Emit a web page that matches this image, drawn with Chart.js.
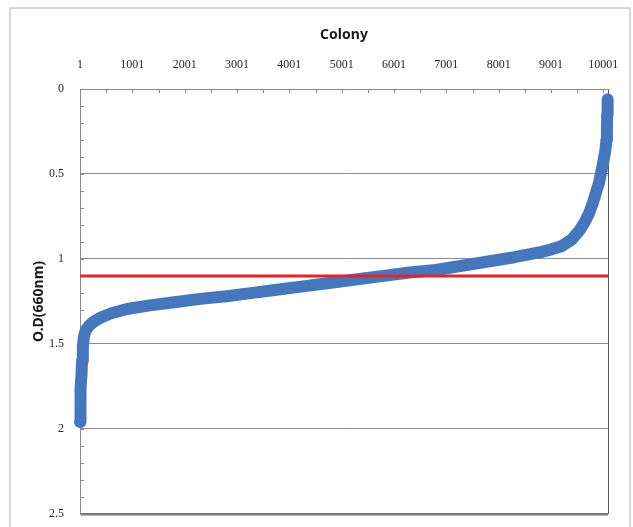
<!DOCTYPE html>
<html>
<head>
<meta charset="utf-8">
<script src="https://cdn.jsdelivr.net/npm/chart.js@4/dist/chart.umd.min.js"></script>
<style>
  html, body { margin: 0; padding: 0; background: #fff; }
  #wrap { position: relative; width: 633px; height: 527px; }
  #frame { position: absolute; left: 9px; top: 7px; width: 622px; height: 522px; border: 2px solid #d6d6d6; box-sizing: border-box; }
  canvas { position: absolute; left: 0; top: 0; }
</style>
</head>
<body>
<div id="wrap">
  <div id="frame"></div>
  <canvas id="odChart" width="633" height="527"></canvas>
</div>
<script>
// colony index (sorted by O.D) and measured O.D at 660nm
const colonies = [1, 4, 8, 12, 20, 30, 40, 55, 75, 110,
    170, 260, 400, 600, 900, 1300, 1800, 2300, 2800, 3300,
    3800, 4300, 4800, 5300, 5800, 6300, 6800, 7300, 7800, 8300,
    8800, 9000, 9200, 9400, 9550, 9650, 9730, 9800, 9860, 9920,
    9960, 10000, 10040, 10060, 10070, 10075, 10080, 10085];
const odValues = [1.96, 1.92, 1.88, 1.84, 1.76, 1.68, 1.60, 1.52, 1.46, 1.42,
    1.395, 1.37, 1.345, 1.32, 1.295, 1.275, 1.255, 1.235, 1.22, 1.20,
    1.18, 1.16, 1.14, 1.12, 1.10, 1.08, 1.065, 1.04, 1.015, 0.99,
    0.96, 0.945, 0.925, 0.885, 0.83, 0.78, 0.73, 0.67, 0.61, 0.55,
    0.49, 0.43, 0.36, 0.30, 0.22, 0.15, 0.10, 0.06];
const cutoffOD = 1.1;

const xMin = 1;
const xMax = 10090;
const xMajorTicks = [1, 1001, 2001, 3001, 4001, 5001, 6001, 7001, 8001, 9001, 10001];
const xMinorTicks = [501, 1501, 2501, 3501, 4501, 5501, 6501, 7501, 8501, 9501];
const yMajorTicks = [0, 0.5, 1, 1.5, 2, 2.5];
const yMinorTicks = [0.1, 0.2, 0.3, 0.4, 0.6, 0.7, 0.8, 0.9, 1.1, 1.2, 1.3, 1.4,
    1.6, 1.7, 1.8, 1.9, 2.1, 2.2, 2.3, 2.4];

const tickFont = { family: 'Liberation Serif', size: 12 };
const titleFont = { family: 'Noto Sans', size: 14, weight: 'bold' };

// small inward tick marks + dark right edge, like the spreadsheet look
const axisTicks = {
    id: 'axisTicks',
    beforeDatasetsDraw(chart) {
        const c = chart.ctx;
        const area = chart.chartArea;
        const xs = chart.scales.x;
        const ys = chart.scales.y;
        c.save();
        c.strokeStyle = '#8a8a8a';
        c.lineWidth = 1;
        c.beginPath();
        xMajorTicks.concat(xMinorTicks).forEach(v => {
            const px = Math.round(xs.getPixelForValue(v)) + 0.5;
            c.moveTo(px, area.top);
            c.lineTo(px, area.top + 4);
        });
        yMajorTicks.concat(yMinorTicks).forEach(v => {
            const py = Math.round(ys.getPixelForValue(v)) + 0.5;
            c.moveTo(area.left, py);
            c.lineTo(area.left + 4, py);
        });
        c.stroke();
        c.strokeStyle = '#5a5a5a';
        c.beginPath();
        c.moveTo(Math.round(area.right) + 0.5, area.top);
        c.lineTo(Math.round(area.right) + 0.5, area.bottom);
        c.stroke();
        c.restore();
    }
};

const ctx = document.getElementById('odChart').getContext('2d');

new Chart(ctx, {
    type: 'scatter',
    data: {
        datasets: [{
            label: 'cutoff',
            type: 'line',
            data: [{ x: xMin, y: cutoffOD }, { x: xMax, y: cutoffOD }],
            borderColor: '#e3252a',
            borderWidth: 3,
            pointRadius: 0,
            order: 0,
            clip: false
        }, {
            label: 'O.D(660nm)',
            data: colonies.map((c, i) => ({ x: c, y: odValues[i] })),
            showLine: true,
            borderColor: '#4677bd',
            backgroundColor: '#4677bd',
            borderWidth: 12,
            borderJoinStyle: 'round',
            borderCapStyle: 'round',
            pointStyle: 'rectRot',
            pointRadius: 5,
            pointBorderWidth: 0,
            order: 1,
            clip: false
        }]
    },
    options: {
        responsive: false,
        animation: false,
        layout: { padding: { left: 0, top: 0, right: 25, bottom: 3 } },
        plugins: {
            legend: { display: false },
            tooltip: { enabled: false }
        },
        scales: {
            x: {
                type: 'linear',
                position: 'top',
                min: xMin,
                max: xMax,
                afterBuildTicks: s => { s.ticks = xMajorTicks.map(v => ({ value: v })); },
                afterFit: s => { s.height = 89; },
                ticks: {
                    font: tickFont,
                    color: '#262626',
                    padding: 4,
                    maxRotation: 0,
                    autoSkip: false,
                    callback: v => String(v)
                },
                grid: { drawOnChartArea: false, drawTicks: true, tickLength: 13, tickColor: 'rgba(0,0,0,0)' },
                border: { color: '#8a8a8a', width: 1 },
                title: {
                    display: true,
                    text: 'Colony',
                    font: titleFont,
                    color: '#1a1a1a',
                    padding: { top: 27, bottom: 0 }
                }
            },
            y: {
                reverse: true,
                min: 0,
                max: 2.5,
                afterBuildTicks: s => { s.ticks = yMajorTicks.map(v => ({ value: v })); },
                afterFit: s => { s.width = 80; },
                ticks: {
                    font: tickFont,
                    color: '#262626',
                    padding: 6,
                    callback: v => String(v)
                },
                grid: {
                    drawTicks: true,
                    tickLength: 10,
                    tickColor: 'rgba(0,0,0,0)',
                    color: c => c.tick.value === 0 ? 'rgba(0,0,0,0)' : (c.tick.value === 2.5 ? '#7a7a7a' : '#8c8c8c'),
                    lineWidth: c => c.tick.value === 2.5 ? 2.5 : 1
                },
                border: { color: '#8a8a8a', width: 1 },
                title: {
                    display: true,
                    text: 'O.D(660nm)',
                    font: titleFont,
                    color: '#1a1a1a',
                    padding: { top: 31, bottom: 0 }
                }
            }
        }
    },
    plugins: [axisTicks]
});
</script>
</body>
</html>
